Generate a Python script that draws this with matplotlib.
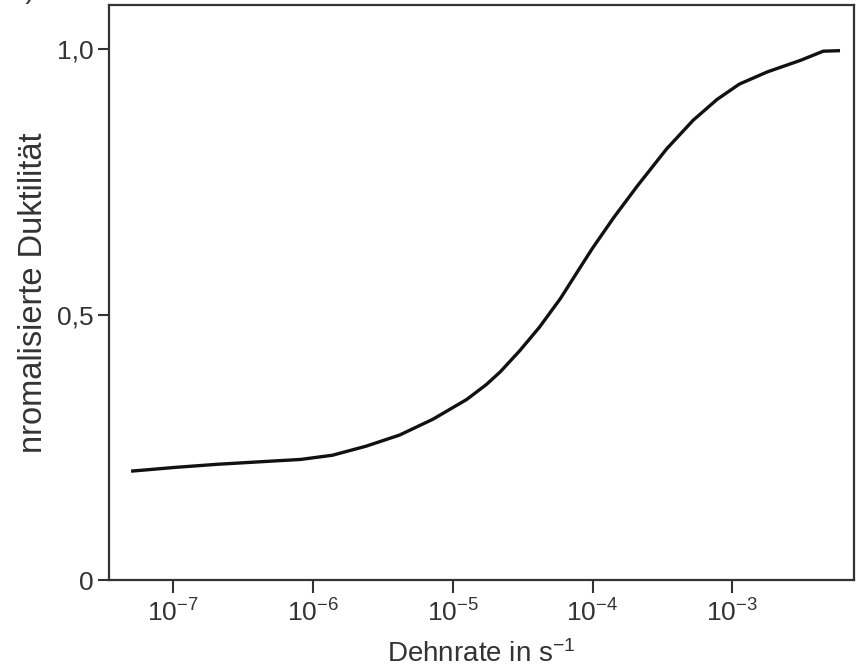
import matplotlib
matplotlib.use("Agg")
import matplotlib.pyplot as plt
import numpy as np

plt.rcParams["font.family"] = ["Liberation Sans", "DejaVu Sans"]
plt.rcParams["mathtext.fontset"] = "custom"
plt.rcParams["mathtext.rm"] = "Liberation Sans"
plt.rcParams["mathtext.it"] = "Liberation Sans"

# strain rate (log10 of 1/s) and normalised ductility
log_rate = [-7.30, -6.99, -6.68, -6.29, -6.09, -5.86, -5.62, -5.38, -5.14,
            -4.90, -4.76, -4.66, -4.52, -4.38, -4.23, -4.09, -4.00, -3.85,
            -3.68, -3.47, -3.28, -3.11, -2.95, -2.75, -2.51, -2.35, -2.23]
ductility = [0.205, 0.212, 0.218, 0.224, 0.227, 0.235, 0.252, 0.273, 0.303,
             0.340, 0.368, 0.392, 0.432, 0.476, 0.530, 0.588, 0.625, 0.682,
             0.742, 0.812, 0.866, 0.905, 0.934, 0.957, 0.979, 0.996, 0.997]

x_ticks = [1e-7, 1e-6, 1e-5, 1e-4, 1e-3]
x_tick_labels = [r"$\mathregular{10^{-7}}$", r"$\mathregular{10^{-6}}$",
                 r"$\mathregular{10^{-5}}$", r"$\mathregular{10^{-4}}$",
                 r"$\mathregular{10^{-3}}$"]
y_ticks = [0, 0.5, 1.0]
y_tick_labels = ["0", "0,5", "1,0"]

fig = plt.figure(figsize=(8.57, 6.72), dpi=100)
ax = fig.add_axes([109 / 857, 1 - 580 / 672, (854 - 109) / 857, (580 - 5) / 672])

rate = 10.0 ** np.array(log_rate)
ax.plot(rate, ductility, color="#111111", lw=2.4, solid_joinstyle="round",
        solid_capstyle="butt")

ax.set_xscale("log")
ax.set_xlim(10 ** -7.458, 10 ** -2.13)
ax.set_ylim(0, 1.083)

ax.set_xticks(x_ticks)
ax.set_xticklabels(x_tick_labels)
ax.xaxis.set_minor_locator(matplotlib.ticker.NullLocator())
ax.set_yticks(y_ticks)
ax.set_yticklabels(y_tick_labels)

for s in ax.spines.values():
    s.set_color("#333333")
    s.set_linewidth(1.6)

ax.tick_params(axis="x", direction="out", length=9, width=1.5, color="#333333",
               labelsize=19, pad=5, labelcolor="#333333")
ax.tick_params(axis="y", direction="out", length=8, width=1.5, color="#333333",
               labelsize=19, pad=3, labelcolor="#333333")

ax.set_xlabel(r"Dehnrate in s$\mathregular{^{-1}}$", fontsize=20, color="#333333",
              labelpad=10)
ax.set_ylabel("nromalisierte Duktilität", fontsize=23.5, color="#333333", labelpad=6)

fig.text(0.012, 1.0 + 9 / 672, "b)", fontsize=20, color="#333333", va="center")

fig.savefig("out.png", dpi=100)
